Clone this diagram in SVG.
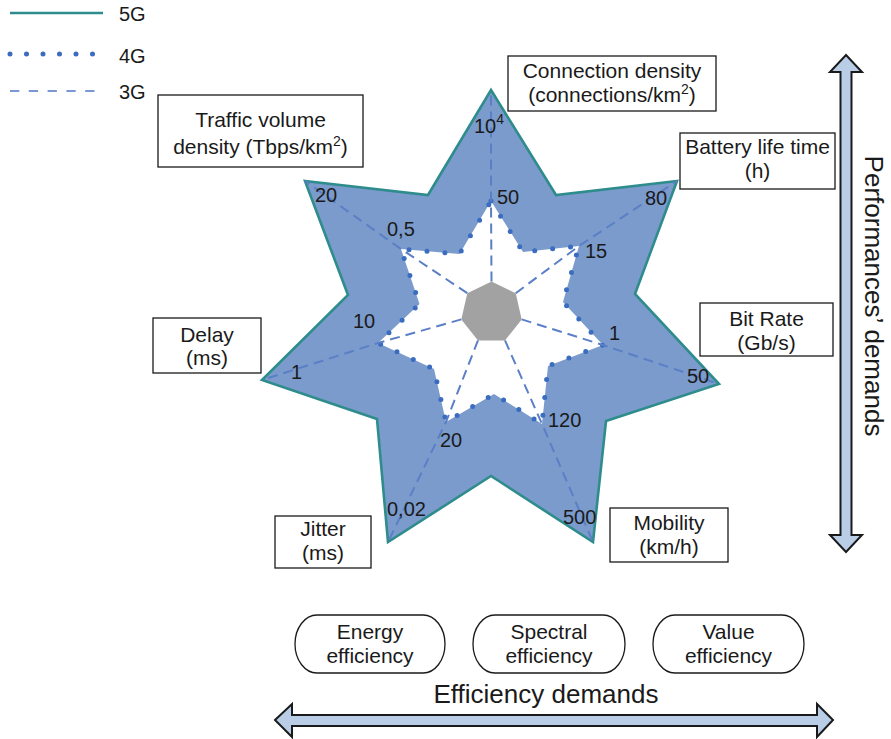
<svg xmlns="http://www.w3.org/2000/svg" width="891" height="739" viewBox="0 0 891 739">
  <style>
    text { font-family: "Liberation Sans", Arial, sans-serif; fill: #1a1a1a; }
    .lbl { font-size: 21px; text-anchor: middle; }
    .val { font-size: 20px; }
    .leg { font-size: 20px; }
    .box { fill: #ffffff; stroke: #1a1a1a; stroke-width: 1.3; }
    .pill { fill: #ffffff; stroke: #1a1a1a; stroke-width: 1.3; }
    .g5 { fill: #7b9bcc; stroke: #2f8c8c; stroke-width: 2.6; stroke-linejoin: miter; }
    .g4 { fill: #ffffff; stroke: #3a6cc0; stroke-width: 5; stroke-linecap: round; stroke-dasharray: 0 18; }
    .axis { fill: none; stroke: #5a7fc6; stroke-width: 2; stroke-dasharray: 10 6; }
    .arrow { fill: #b9cde6; stroke: #1a1a1a; stroke-width: 2; }
  </style>

  <!-- legend -->
  <g id="legend">
    <line x1="10" y1="13" x2="103" y2="13" stroke="#2f8c8c" stroke-width="2.6"/>
    <text class="leg" x="119" y="21">5G</text>
    <line x1="10" y1="54" x2="93" y2="54" stroke="#3a6cc0" stroke-width="5" stroke-linecap="round" stroke-dasharray="0 16.5"/>
    <text class="leg" x="119" y="63">4G</text>
    <line x1="10" y1="91" x2="95" y2="91" stroke="#7b98d2" stroke-width="2.2" stroke-dasharray="9.3 9.5"/>
    <text class="leg" x="119" y="99">3G</text>
  </g>

  <!-- radar chart -->
  <g id="chart">
    <polygon id="area-5g" class="g5" points="491,90 556,195 677,181 635,294 719,384 606,421 593,542 491,476 388,542 377,419 262,380 348,295 305,181 428,195"/>
    <polygon id="area-4g" class="g4" points="491,201 523,252 579,246 563,302 603,345 548,366 542,424 494,394 446,422 434,369 378,343 419.5,304 401,249 459.5,254"/>
    <g id="axes">
      <polyline class="axis" points="491.5,281.5 491,201 491,90"/>
      <polyline class="axis" points="515.7,293.2 579,246 677,181"/>
      <polyline class="axis" points="521.7,319.4 603,345 719,384"/>
      <polyline class="axis" points="505,340.4 542,424 593,542"/>
      <polyline class="axis" points="478,340.4 446,422 388,542"/>
      <polyline class="axis" points="461.3,319.4 378,343 262,380"/>
      <polyline class="axis" points="467.3,293.2 401,249 305,181"/>
    </g>
    <polygon id="hub" fill="#a2a2a2" points="491.5,281.5 515.7,293.2 521.7,319.4 505,340.4 478,340.4 461.3,319.4 467.3,293.2"/>

    <!-- scale values -->
    <text class="val" x="474" y="133">10<tspan font-size="14" dy="-9">4</tspan></text>
    <text class="val" x="497" y="204">50</text>
    <text class="val" x="645" y="205">80</text>
    <text class="val" x="585" y="258">15</text>
    <text class="val" x="609" y="340">1</text>
    <text class="val" x="687" y="383">50</text>
    <text class="val" x="548" y="427">120</text>
    <text class="val" x="563" y="524">500</text>
    <text class="val" x="440" y="447">20</text>
    <text class="val" x="387" y="516">0,02</text>
    <text class="val" x="291" y="379">1</text>
    <text class="val" x="353" y="328">10</text>
    <text class="val" x="387" y="236">0,5</text>
    <text class="val" x="315" y="202">20</text>
  </g>

  <!-- axis labels -->
  <g id="connection-density">
    <rect class="box" x="508" y="56" width="208" height="55"/>
    <text class="lbl" x="612" y="78">Connection density</text>
    <text class="lbl" x="612" y="102">(connections/km<tspan font-size="14" dy="-8">2</tspan><tspan dy="8">)</tspan></text>
  </g>
  <g id="battery-life">
    <rect class="box" x="680" y="133" width="155" height="56"/>
    <text class="lbl" x="757.5" y="154">Battery life time</text>
    <text class="lbl" x="757.5" y="178">(h)</text>
  </g>
  <g id="bit-rate">
    <rect class="box" x="700" y="303" width="133" height="53"/>
    <text class="lbl" x="766.5" y="326">Bit Rate</text>
    <text class="lbl" x="766.5" y="350">(Gb/s)</text>
  </g>
  <g id="mobility">
    <rect class="box" x="610" y="508" width="118" height="54"/>
    <text class="lbl" x="669" y="530">Mobility</text>
    <text class="lbl" x="669" y="554">(km/h)</text>
  </g>
  <g id="jitter">
    <rect class="box" x="275" y="516" width="96" height="52"/>
    <text class="lbl" x="323" y="536">Jitter</text>
    <text class="lbl" x="323" y="560">(ms)</text>
  </g>
  <g id="delay">
    <rect class="box" x="153" y="318" width="108" height="55"/>
    <text class="lbl" x="207" y="342">Delay</text>
    <text class="lbl" x="207" y="365">(ms)</text>
  </g>
  <g id="traffic-volume">
    <rect class="box" x="158" y="95" width="205" height="72"/>
    <text class="lbl" x="260.5" y="127">Traffic volume</text>
    <text class="lbl" x="260.5" y="154">density (Tbps/km<tspan font-size="14" dy="-8">2</tspan><tspan dy="8">)</tspan></text>
  </g>

  <!-- efficiency items -->
  <g id="energy-efficiency">
    <rect class="pill" x="295" y="615" width="150" height="58" rx="22" ry="29"/>
    <text class="lbl" x="370" y="639">Energy</text>
    <text class="lbl" x="370" y="663">efficiency</text>
  </g>
  <g id="spectral-efficiency">
    <rect class="pill" x="473" y="615" width="152" height="58" rx="22" ry="29"/>
    <text class="lbl" x="549" y="639">Spectral</text>
    <text class="lbl" x="549" y="663">efficiency</text>
  </g>
  <g id="value-efficiency">
    <rect class="pill" x="653" y="615" width="151" height="58" rx="22" ry="29"/>
    <text class="lbl" x="728.5" y="639">Value</text>
    <text class="lbl" x="728.5" y="663">efficiency</text>
  </g>

  <!-- demand arrows -->
  <g id="connectors">
    <path class="arrow" d="M275,720 L292,704 L292,715 L817,715 L817,704 L833,720 L817,737 L817,726 L292,726 L292,737 Z"/>
    <path class="arrow" d="M846,55 L862,72 L851.5,72 L851.5,535 L862,535 L846,552 L830,535 L840.5,535 L840.5,72 L830,72 Z"/>
  </g>
  <text x="546" y="703" font-size="26" text-anchor="middle">Efficiency demands</text>
  <text transform="translate(865,296) rotate(90)" font-size="26" text-anchor="middle">Performances’ demands</text>
</svg>
